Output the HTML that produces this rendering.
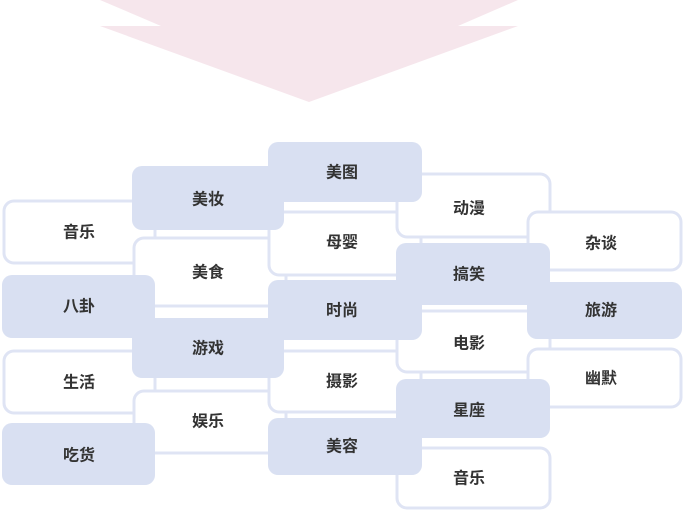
<!DOCTYPE html>
<html><head><meta charset="utf-8"><style>
html,body{margin:0;padding:0;background:#fff;width:686px;height:511px;overflow:hidden}
svg text{font-family:"Liberation Sans","Noto Sans CJK SC",sans-serif;font-weight:bold;font-size:16px;fill:#333;text-anchor:middle;dominant-baseline:central}
</style></head><body>
<svg width="686" height="511" viewBox="0 0 686 511">
<polygon points="100,0 518,0 458,26 518,26 309,102 100,26 161,26" fill="#f6e6ec"/>
<g fill="#fff" stroke="#dfe4f4" stroke-width="3">
<rect x="4" y="201" width="151" height="62" rx="10"/>
<rect x="4" y="351" width="151" height="62" rx="10"/>
<rect x="134" y="238" width="152" height="68" rx="10"/>
<rect x="134" y="391" width="152" height="62" rx="10"/>
<rect x="269" y="212" width="152" height="63" rx="10"/>
<rect x="269" y="351" width="152" height="61" rx="10"/>
<rect x="397" y="174" width="153" height="63" rx="10"/>
<rect x="397" y="311" width="153" height="61" rx="10"/>
<rect x="397" y="448" width="153" height="60" rx="10"/>
<rect x="528" y="212" width="153" height="58" rx="10"/>
<rect x="528" y="349" width="153" height="58" rx="10"/>
</g>
<g fill="#d9e0f2">
<rect x="2" y="275" width="153" height="63" rx="10"/>
<rect x="2" y="423" width="153" height="62" rx="10"/>
<rect x="132" y="166" width="152" height="64" rx="10"/>
<rect x="132" y="318" width="152" height="60" rx="10"/>
<rect x="268" y="142" width="154" height="60" rx="10"/>
<rect x="268" y="280" width="154" height="60" rx="10"/>
<rect x="268" y="418" width="154" height="57" rx="10"/>
<rect x="396" y="243" width="154" height="62" rx="10"/>
<rect x="396" y="379" width="154" height="59" rx="10"/>
<rect x="527" y="282" width="155" height="57" rx="10"/>
</g>
<text x="79" y="233">音乐</text>
<text x="79" y="307">八卦</text>
<text x="79" y="383">生活</text>
<text x="79" y="456">吃货</text>
<text x="208" y="200">美妆</text>
<text x="208" y="273">美食</text>
<text x="208" y="349">游戏</text>
<text x="208" y="422">娱乐</text>
<text x="342" y="173">美图</text>
<text x="342" y="243">母婴</text>
<text x="342" y="311">时尚</text>
<text x="342" y="382">摄影</text>
<text x="342" y="447">美容</text>
<text x="469" y="209">动漫</text>
<text x="469" y="275">搞笑</text>
<text x="469" y="344">电影</text>
<text x="469" y="411">星座</text>
<text x="469" y="479">音乐</text>
<text x="601" y="244">杂谈</text>
<text x="601" y="311">旅游</text>
<text x="601" y="379">幽默</text>
</svg>
</body></html>
